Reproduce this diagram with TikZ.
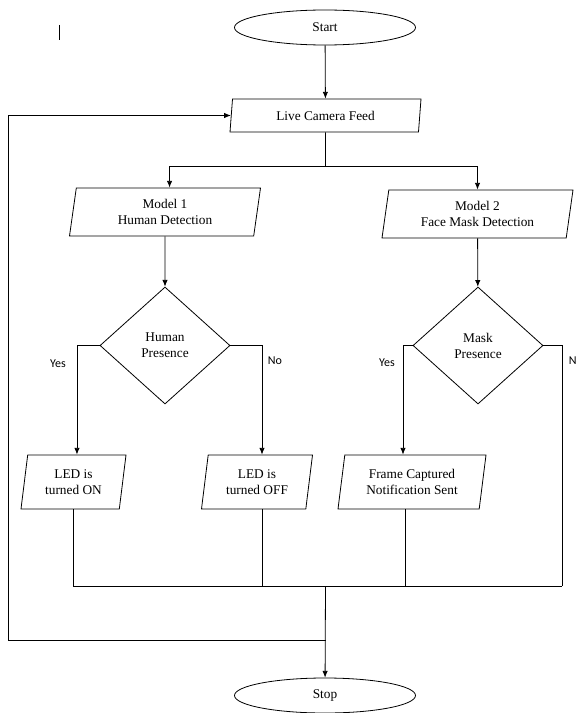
\documentclass[tikz,border=0pt]{standalone}
\usepackage{fontspec}
\setmainfont{Liberation Serif}
\newfontfamily\lblfont{Carlito}
\usetikzlibrary{shapes.geometric,arrows.meta}

\begin{document}
\begin{tikzpicture}[x=0.75pt,y=-0.75pt,line width=0.6pt,
    arr/.style={-{Latex[length=5pt,width=4pt]}},
    term/.style={ellipse,draw,minimum width=135.75pt,minimum height=26.25pt,inner sep=0pt},
    io/.style={trapezium,trapezium left angle=75,trapezium right angle=105,
      trapezium stretches body,draw,inner sep=0pt,align=center},
    decide/.style={diamond,draw,aspect=1.11,minimum width=97.5pt,minimum height=87.75pt,
      inner sep=0pt,align=center},
    lbl/.style={font=\lblfont\small}]
      \useasboundingbox (0,0) rectangle (577,713);
      \draw (59,25) -- (59,40);

      \node[term] (start) at (325,27.5) {Start};
      \node[io,minimum width=143.25pt,minimum height=24.75pt] (live) at (325.5,115.5) {Live Camera Feed};
      \node[io,minimum width=143.25pt,minimum height=36pt] (m1) at (165,212) {Model 1\\Human Detection};
      \node[io,minimum width=143.25pt,minimum height=36pt] (m2) at (477.5,214) {Model 2\\Face Mask Detection};
      \node[decide] (d1) at (165,345.5) {Human\\Presence};
      \node[decide] (d2) at (478,345.5) {Mask\\Presence};
      \node[io,minimum width=78.75pt,minimum height=40.5pt] (ledon) at (73.5,482) {LED is\\turned ON};
      \node[io,minimum width=83.25pt,minimum height=40.5pt] (ledoff) at (257,482) {LED is\\turned OFF};
      \node[io,minimum width=111pt,minimum height=40.5pt] (frame) at (412,482) {Frame Captured\\Notification Sent};
      \node[term] (stop) at (325,695.5) {Stop};

      \node[lbl] (yes1) at (58,364) {Yes};
      \node[lbl] (no1) at (275,361) {No};
      \node[lbl] (yes2) at (387,363) {Yes};
      \node[lbl,anchor=west] (no2lbl) at (564,361) {No};

      \coordinate (split) at (325.5,166);
      \coordinate (no2) at (562,345.5);
      \coordinate (join) at (325.5,586);
      \coordinate (back) at (325.5,640);
      \coordinate (lft) at (8,640);

      \draw[arr] (start) -- (live);
      \draw (live) -- (split);
      \draw[arr] (split) -| ([xshift=3.4pt]m1.north);
      \draw[arr] (split) -| (m2.north);
      \draw[arr] (m1) -- (d1);
      \draw[arr] (m2) -- (d2);
      \draw[arr] (d1.west) -| ([xshift=2.6pt]ledon.north);
      \draw[arr] (d1.east) -| ([xshift=3.75pt]ledoff.north);
      \draw[arr] (d2.west) -| ([xshift=-6.75pt]frame.north);
      \draw (d2.east) -- (no2) -- (no2 |- join);
      \draw (ledon.south) -- (ledon.south |- join) -- (no2 |- join);
      \draw ([xshift=3.75pt]ledoff.south) -- ([xshift=3.75pt]ledoff.south |- join);
      \draw ([xshift=-5.25pt]frame.south) -- ([xshift=-5.25pt]frame.south |- join);
      \draw[arr] (join) -- (stop);
      \draw[arr] (back) -- (lft) |- (live.left side);
\end{tikzpicture}
\end{document}
